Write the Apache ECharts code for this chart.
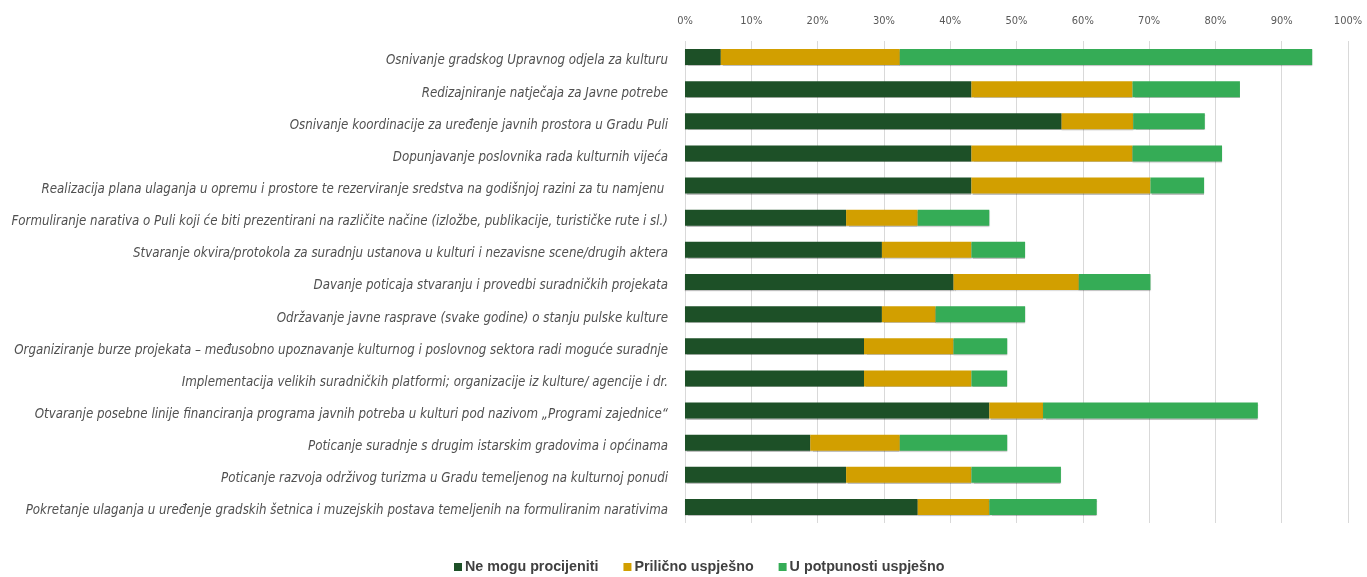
<!DOCTYPE html>
<html>
<head>
<meta charset="utf-8">
<script src="https://cdn.jsdelivr.net/npm/echarts@6/dist/echarts.min.js"></script>
<style>
html,body{margin:0;padding:0;background:#fff;}
#c{width:1367px;height:577px;}
</style>
</head>
<body>
<div id="c"></div>
<script>
const categories = [
  "Osnivanje gradskog Upravnog odjela za kulturu",
  "Redizajniranje natječaja za Javne potrebe",
  "Osnivanje koordinacije za uređenje javnih prostora u Gradu Puli",
  "Dopunjavanje poslovnika rada kulturnih vijeća",
  "Realizacija plana ulaganja u opremu i prostore te rezerviranje sredstva na godišnjoj razini za tu namjenu ",
  "Formuliranje narativa o Puli koji će biti prezentirani na različite načine (izložbe, publikacije, turističke rute i sl.)",
  "Stvaranje okvira/protokola za suradnju ustanova u kulturi i nezavisne scene/drugih aktera",
  "Davanje poticaja stvaranju i provedbi suradničkih projekata",
  "Održavanje javne rasprave (svake godine) o stanju pulske kulture",
  "Organiziranje burze projekata – međusobno upoznavanje kulturnog i poslovnog sektora radi moguće suradnje",
  "Implementacija velikih suradničkih platformi; organizacije iz kulture/ agencije i dr.",
  "Otvaranje posebne linije financiranja programa javnih potreba u kulturi pod nazivom „Programi zajednice“",
  "Poticanje suradnje s drugim istarskim gradovima i općinama",
  "Poticanje razvoja održivog turizma u Gradu temeljenog na kulturnoj ponudi",
  "Pokretanje ulaganja u uređenje gradskih šetnica i muzejskih postava temeljenih na formuliranim narativima"
];
const seriesNames = ["Ne mogu procijeniti", "Prilično uspješno", "U potpunosti uspješno"];
const neMogu = [5.4, 43.2, 56.8, 43.2, 43.2, 24.3, 29.7, 40.5, 29.7, 27.0, 27.0, 45.9, 18.9, 24.3, 35.1];
const prilicno = [27.0, 24.3, 10.8, 24.3, 27.0, 10.8, 13.5, 18.9, 8.1, 13.5, 16.2, 8.1, 13.5, 18.9, 10.8];
const potpuno = [62.2, 16.2, 10.8, 13.5, 8.1, 10.8, 8.1, 10.8, 13.5, 8.1, 5.4, 32.4, 16.2, 13.5, 16.2];
const xTicks = [0, 10, 20, 30, 40, 50, 60, 70, 80, 90, 100];
const colors = ["#1d5027", "#d29f00", "#35ac56"];

const chart = echarts.init(document.getElementById('c'));
const values = [neMogu, prilicno, potpuno];
const labelFont = 'Liberation Sans Narrow, DejaVu Sans Condensed, sans-serif';
chart.setOption({
  animation: false,
  grid: {left: 685, right: 19, top: 41, bottom: 54, containLabel: false},
  legend: {
    top: 555, left: 449,
    itemWidth: 8, itemHeight: 8, itemGap: 25,
    icon: 'rect',
    textStyle: {fontFamily: 'Liberation Sans, Arial, sans-serif', fontSize: 14.3, fontWeight: 'bold', color: '#404040', padding: [0, 0, 0, -2]},
    data: seriesNames
  },
  xAxis: {
    type: 'value', position: 'top', min: 0, max: 100, interval: 10,
    axisLine: {show: false}, axisTick: {show: false},
    splitLine: {show: true, lineStyle: {color: '#d9d9d9', width: 1}},
    axisLabel: {
      formatter: v => xTicks.includes(v) ? v + '%' : '',
      color: '#595959', fontSize: 11, margin: 14,
      fontFamily: labelFont
    }
  },
  yAxis: {
    type: 'category', inverse: true, data: categories,
    axisLine: {show: false}, axisTick: {show: false},
    axisLabel: {
      margin: 17,
      formatter: v => '{a|' + v + '}',
      rich: {
        a: {color: '#505050', fontSize: 13.2, fontStyle: 'italic', fontFamily: labelFont, padding: [8, 0, 0, 0]}
      }
    }
  },
  series: seriesNames.map((n, i) => ({
    name: n, type: 'bar', stack: 'total', barWidth: 16,
    itemStyle: {color: colors[i], shadowColor: 'rgba(0,0,0,0.25)', shadowOffsetY: 1, shadowBlur: 1},
    data: values[i]
  }))
});
</script>
</body>
</html>
